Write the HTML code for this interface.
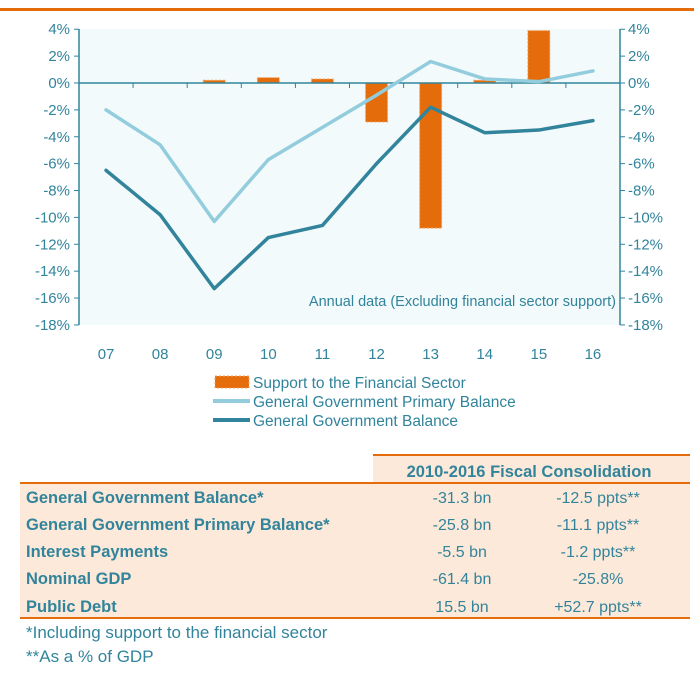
<!DOCTYPE html>
<html><head><meta charset="utf-8"><style>
body{margin:0;background:#fff;width:694px;height:688px;overflow:hidden;font-family:"Liberation Sans",sans-serif}
svg text{font-family:"Liberation Sans",sans-serif}
</style></head><body>
<svg id="c" width="694" height="688" xmlns="http://www.w3.org/2000/svg">
<rect x="0" y="8" width="694" height="3" fill="#e46c0a"/>
<rect x="79" y="29" width="541" height="296" fill="#f2fafb"/>
<g id="g"></g>
<text x="616" y="306" font-size="14.5" fill="#31849b" text-anchor="end">Annual data (Excluding financial sector  support)</text>
<g>
<rect x="215" y="376" width="34" height="12" fill="#e46c0a" stroke="#f4a460" stroke-dasharray="2 2"/>
<text x="253" y="388" font-size="15.5" fill="#31849b">Support to the Financial Sector</text>
<line x1="213" y1="401" x2="250" y2="401" stroke="#93cddd" stroke-width="4"/>
<text x="253" y="407" font-size="15.5" fill="#31849b">General Government Primary Balance</text>
<line x1="213" y1="420" x2="250" y2="420" stroke="#31849b" stroke-width="4"/>
<text x="253" y="426" font-size="15.5" fill="#31849b">General Government Balance</text>
</g>
<g font-size="16" fill="#31849b">
<rect x="373" y="455" width="317" height="29" fill="#fde9d9"/>
<rect x="373" y="454" width="317" height="2" fill="#e46c0a"/>
<text x="529" y="477" text-anchor="middle" font-weight="bold" font-size="16.5">2010-2016 Fiscal Consolidation</text>
<rect x="20" y="484" width="670" height="134" fill="#fde9d9"/>
<rect x="20" y="482" width="670" height="2" fill="#e46c0a"/>
<rect x="20" y="617" width="670" height="2" fill="#e46c0a"/>
<g font-weight="bold" font-size="16.5">
<text x="26" y="503">General Government Balance*</text>
<text x="26" y="530">General Government Primary Balance*</text>
<text x="26" y="557">Interest Payments</text>
<text x="26" y="584">Nominal GDP</text>
<text x="26" y="612">Public Debt</text>
</g>
<g text-anchor="middle">
<text x="462" y="503">-31.3 bn</text><text x="598" y="503">-12.5 ppts**</text>
<text x="462" y="530">-25.8 bn</text><text x="598" y="530">-11.1 ppts**</text>
<text x="462" y="557">-5.5 bn</text><text x="598" y="557">-1.2 ppts**</text>
<text x="462" y="584">-61.4 bn</text><text x="598" y="584">-25.8%</text>
<text x="462" y="612">15.5 bn</text><text x="598" y="612">+52.7 ppts**</text>
</g>
<text x="26" y="638" font-size="17">*Including support to the financial sector</text>
<text x="26" y="662" font-size="17">**As a % of GDP</text>
</g>
</svg>
<script>
const categories=["07","08","09","10","11","12","13","14","15","16"];
const supportValues=[0,0,0.2,0.4,0.3,-2.9,-10.8,0.2,3.9,0];
const primaryValues=[-2.0,-4.6,-10.3,-5.7,-3.3,-0.9,1.6,0.3,0.1,0.9];
const balanceValues=[-6.5,-9.8,-15.3,-11.5,-10.6,-6.0,-1.8,-3.7,-3.5,-2.8];
const yTicks=[4,2,0,-2,-4,-6,-8,-10,-12,-14,-16,-18];
const NS="http://www.w3.org/2000/svg";
const L=79,R=620,bw=(R-L)/categories.length;
const x=i=>L+bw*(i+0.5);
const y=v=>83-(v*13.44);
const g=document.getElementById('g');
function mk(t,a){const e=document.createElementNS(NS,t);for(const k in a)e.setAttribute(k,a[k]);g.appendChild(e);return e;}
let e=mk('line',{x1:L,y1:29,x2:L,y2:325,stroke:'#31849b','stroke-width':1.5});


e=mk('line',{x1:R,y1:29,x2:R,y2:325,stroke:'#31849b','stroke-width':1.5});


yTicks.forEach(t=>{
  mk('line',{x1:L-5,y1:y(t),x2:L,y2:y(t),stroke:'#31849b'});
  mk('line',{x1:R,y1:y(t),x2:R+5,y2:y(t),stroke:'#31849b'});
  let a=mk('text',{x:L-9,y:y(t)+5,'font-size':15,fill:'#31849b','text-anchor':'end'});a.textContent=t+'%';
  
  
  let b=mk('text',{x:R+8,y:y(t)+5,'font-size':15,fill:'#31849b'});b.textContent=t+'%';
  
  
});
categories.forEach((c,i)=>{
  if(i>0)mk('line',{x1:L+bw*i,y1:y(0),x2:L+bw*i,y2:y(0)+5,stroke:'#31849b'});
  let t=mk('text',{x:x(i),y:359,'font-size':15,fill:'#31849b','text-anchor':'middle'});t.textContent=c;
  
  
});
supportValues.forEach((v,i)=>{
  if(!v)return;
  let r=mk('rect',{x:x(i)-11,y:Math.min(y(0),y(v)),width:22,height:Math.abs(y(v)-y(0)),fill:'#e46c0a',stroke:'#f4a460','stroke-dasharray':'2 2'});
  
  
});
e=mk('line',{x1:L,y1:y(0),x2:R,y2:y(0),stroke:'#31849b','stroke-width':1.5});


function line(vals,col,name){
  let p=mk('polyline',{points:vals.map((v,i)=>x(i)+','+y(v)).join(' '),fill:'none',stroke:col,'stroke-width':3.5,'stroke-linejoin':'round','stroke-linecap':'round'});
  
  
}
line(primaryValues,'#93cddd','primary-balance-line');
line(balanceValues,'#31849b','government-balance-line');
</script>
</body></html>
